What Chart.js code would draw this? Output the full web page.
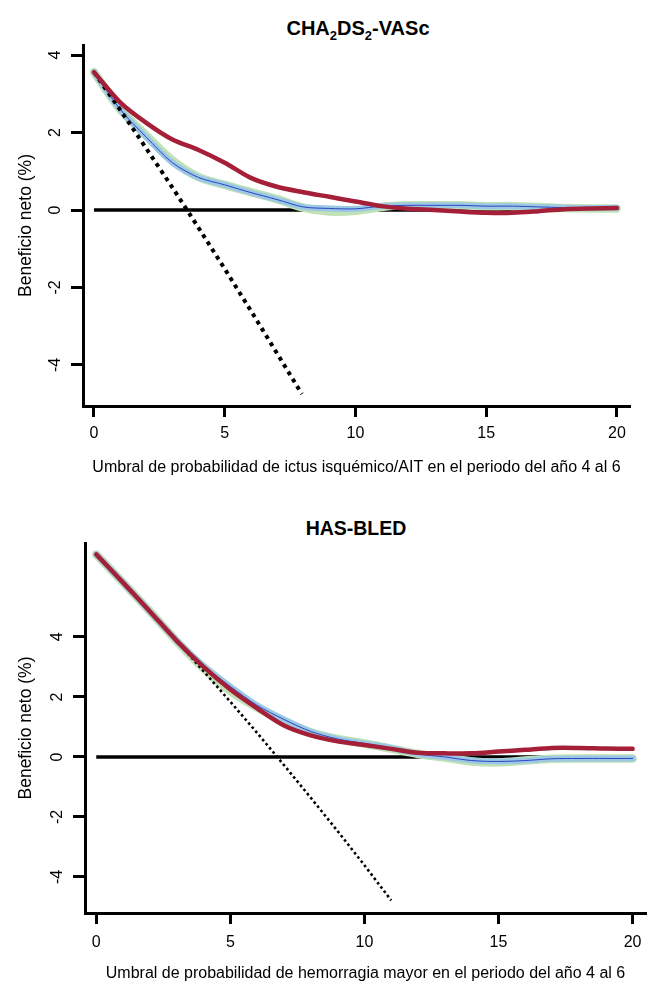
<!DOCTYPE html>
<html>
<head>
<meta charset="utf-8">
<title>Beneficio neto</title>
<script src="https://cdn.jsdelivr.net/npm/chart.js"></script>
<style>
  body { margin: 0; background: #fff; width: 651px; height: 985px; position: relative; overflow: hidden;
         font-family: "Liberation Sans", Arial, sans-serif; }
  .ttl { position: absolute; left: 0; text-align: center; font-weight: bold; font-size: 20px; line-height: 22px; color: #000; }
  .ttl sub { font-size: 13px; vertical-align: -5px; line-height: 0; }
  canvas { position: absolute; left: 0; }
</style>
</head>
<body>
<div class="ttl" style="top:17px;width:716px">CHA<sub>2</sub>DS<sub>2</sub>-VASc</div>
<canvas id="chaChart" width="651" height="450" style="top:40px"></canvas>
<div class="ttl" style="top:517px;width:712px;font-size:19.5px">HAS-BLED</div>
<canvas id="hasChart" width="651" height="495" style="top:490px"></canvas>
<script>
// ticks
const xTicks = [0, 5, 10, 15, 20];
const yTicks = [-4, -2, 0, 2, 4];

// umbral (%) for the model curves
const thresholds = [0, 1, 2, 3, 4, 5, 6, 7, 8, 9, 10, 11, 12, 13, 14, 15, 16, 17, 18, 19, 20];

// CHA2DS2-VASc
const chaRed   = [3.56, 2.78, 2.25, 1.82, 1.55, 1.22, 0.83, 0.6, 0.46, 0.34, 0.22, 0.1, 0.03, 0.0, -0.04, -0.07, -0.07, -0.03, 0.02, 0.04, 0.05];
const chaBlue  = [3.56, 2.6, 1.88, 1.22, 0.84, 0.65, 0.45, 0.27, 0.08, 0.04, 0.03, 0.1, 0.12, 0.12, 0.12, 0.1, 0.1, 0.08, 0.06, 0.05, 0.05];
const chaGreen = [3.56, 2.6, 1.93, 1.28, 0.85, 0.65, 0.46, 0.28, 0.06, -0.04, -0.02, 0.08, 0.12, 0.12, 0.12, 0.1, 0.1, 0.08, 0.05, 0.04, 0.04];
const chaAllX  = [0, 1, 2, 3, 4, 5, 6, 7, 7.95];
const chaAllY  = [3.56, 2.59, 1.59, 0.58, -0.46, -1.52, -2.6, -3.7, -4.75];

// HAS-BLED
const hasRed   = [6.75, 5.81, 4.85, 3.87, 3.0, 2.25, 1.62, 1.05, 0.72, 0.52, 0.4, 0.27, 0.14, 0.12, 0.12, 0.18, 0.24, 0.3, 0.3, 0.28, 0.27];
const hasBlue  = [6.75, 5.81, 4.85, 3.88, 3.05, 2.35, 1.72, 1.25, 0.85, 0.6, 0.45, 0.3, 0.1, 0.0, -0.12, -0.15, -0.12, -0.06, -0.05, -0.05, -0.05];
const hasGreen = [6.75, 5.81, 4.85, 3.86, 2.95, 2.2, 1.65, 1.2, 0.82, 0.6, 0.45, 0.28, 0.1, -0.02, -0.15, -0.18, -0.12, -0.06, -0.05, -0.05, -0.05];
const hasAllX  = [0, 1, 2, 3, 4, 5, 6, 7, 8, 9, 10, 11];
const hasAllY  = [6.75, 5.81, 4.85, 3.87, 2.86, 1.84, 0.8, -0.27, -1.36, -2.47, -3.61, -4.78];

// treat none
const noneX = [0, 20];
const noneY = [0, 0];

const pts = (xs, ys) => xs.map((x, i) => ({ x: x, y: ys[i] }));

function line(data, color, width, extra) {
  return Object.assign({
    data: data, borderColor: color, borderWidth: width, pointRadius: 0,
    fill: false, tension: 0.3, borderCapStyle: "round", borderJoinStyle: "round"
  }, extra || {});
}

function makeChart(id, o) {
  new Chart(document.getElementById(id), {
    type: "line",
    data: {
      datasets: [
        line(pts(thresholds, o.red), "#a51f38", 4.5),
        line(pts(o.allX, o.allY), "#000", o.dotW, { borderDash: o.dash, borderCapStyle: "butt", tension: 0 }),
        line(pts(thresholds, o.blue), "#2a44c4", 1),
        line(pts(thresholds, o.blue), "#9cc8e4", 6),
        line(pts(thresholds, o.green), "#c0e2b6", 8.5),
        line(pts(noneX, noneY), "#000", 3.5, { tension: 0, borderCapStyle: "butt" })
      ]
    },
    options: {
      responsive: false,
      animation: false,
      devicePixelRatio: 1,
      layout: { padding: o.pad },
      plugins: { legend: { display: false }, tooltip: { enabled: false } },
      scales: {
        x: {
          type: "linear", min: -0.42, max: 20.5,
          afterBuildTicks: (s) => { s.ticks = xTicks.map((v) => ({ value: v })); },
          afterFit: (s) => { s.height = o.xH; },
          border: { color: "#000", width: 3 },
          grid: { drawOnChartArea: false, drawTicks: true, tickLength: 11, tickWidth: 3, color: "#000" },
          ticks: { color: "#000", font: { size: 16 }, padding: o.xPad, maxRotation: 0, callback: (v) => String(v) },
          title: { display: true, text: o.xTitle, color: "#000", font: { size: 16 }, padding: { top: 0, bottom: o.xTitlePad } }
        },
        y: {
          type: "linear", min: o.yMin, max: o.yMax,
          afterBuildTicks: (s) => { s.ticks = yTicks.map((v) => ({ value: v })); },
          afterFit: (s) => { s.width = o.yW; s.paddingTop = 0; s.paddingBottom = 0; },
          border: { color: "#000", width: 3 },
          grid: { drawOnChartArea: false, drawTicks: true, tickLength: 12, tickWidth: 3, color: "#000" },
          ticks: { color: "#000", font: { size: 16 }, padding: 8, minRotation: 90, maxRotation: 90, crossAlign: "center", callback: (v) => String(v) },
          title: { display: true, text: "Beneficio neto (%)", color: "#000", font: { size: 17.5 }, padding: { top: 16, bottom: 0 } }
        }
      }
    }
  });
}

makeChart("chaChart", {
  red: chaRed, blue: chaBlue, green: chaGreen, allX: chaAllX, allY: chaAllY,
  dotW: 4, dash: [4, 4.5],
  yMin: -5.06, yMax: 4.26,
  pad: { top: 5, right: 21, left: 0, bottom: 0 },
  xH: 84, yW: 83, xPad: 7, xTitlePad: 13,
  xTitle: "Umbral de probabilidad de ictus isquémico/AIT en el periodo del año 4 al 6"
});

makeChart("hasChart", {
  red: hasRed, blue: hasBlue, green: hasGreen, allX: hasAllX, allY: hasAllY,
  dotW: 2.6, dash: [2.6, 2.8],
  yMin: -5.2, yMax: 7.13,
  pad: { top: 53, right: 5, left: 0, bottom: 0 },
  xH: 72, yW: 85, xPad: 9, xTitlePad: 2,
  xTitle: "Umbral de probabilidad de hemorragia mayor en el periodo del año 4 al 6"
});
</script>
</body>
</html>
